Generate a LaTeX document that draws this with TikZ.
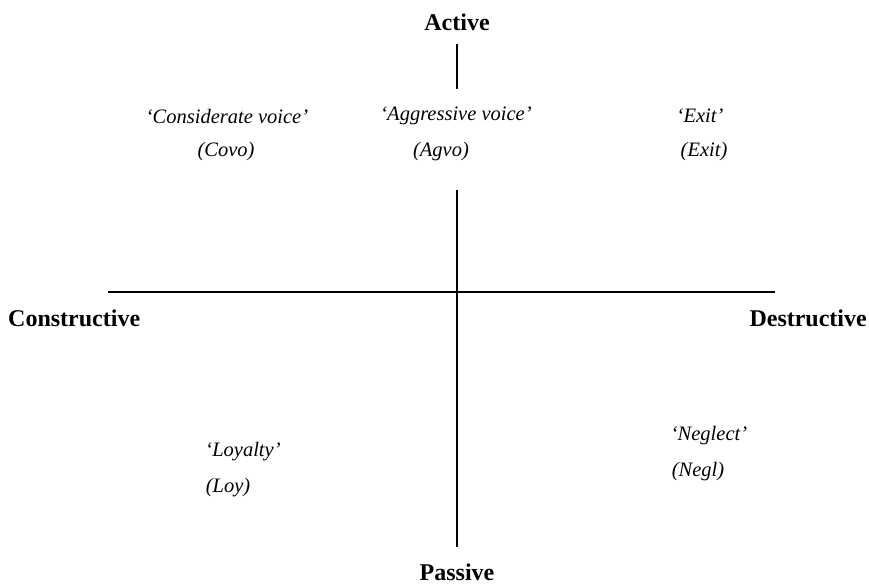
\documentclass[tikz,border=0pt]{standalone}
\usepackage{fontspec}
\setmainfont{Liberation Serif}
\begin{document}
\begin{tikzpicture}[x=1pt,y=-1pt,
  axislab/.style={font=\fontsize{24}{26}\selectfont\bfseries, inner sep=0pt},
  itlab/.style={font=\fontsize{20.5}{23}\selectfont\itshape, inner sep=0pt},
  axisline/.style={line width=1.6pt}]
\useasboundingbox (0,0) rectangle (869,584);
\node[axislab] (active) at (457,22) {Active};
\node[axislab] (passive) at (457,572) {Passive};
\node[axislab, anchor=west] (constr) at (8,318) {Constructive};
\node[axislab, anchor=east] (destr) at (867,318) {Destructive};
\coordinate (vt1) at (457,44);
\coordinate (vt2) at (457,89);
\coordinate (vb1) at (457,190);
\coordinate (vb2) at (457,547);
\coordinate (hl) at (108,292);
\coordinate (hr) at (775,292);
\draw[axisline] (vt1) -- (vt2);
\draw[axisline] (vb1) -- (vb2);
\draw[axisline] (hl) -- (hr);
\node[itlab] (covo) at (227,116) {`Considerate voice'};
\node[itlab] (covoab) at (226,152) {(Covo)};
\node[itlab] (agvo) at (456,116) {`Aggressive voice'};
\node[itlab] (agvoab) at (441,152) {(Agvo)};
\node[itlab] (exit) at (700,116) {`Exit'};
\node[itlab] (exitab) at (704,152) {(Exit)};
\node[itlab] (loy) at (243,452) {`Loyalty'};
\node[itlab] (loyab) at (228,488) {(Loy)};
\node[itlab] (negl) at (709,436) {`Neglect'};
\node[itlab] (neglab) at (698,472) {(Negl)};
\end{tikzpicture}
\end{document}
